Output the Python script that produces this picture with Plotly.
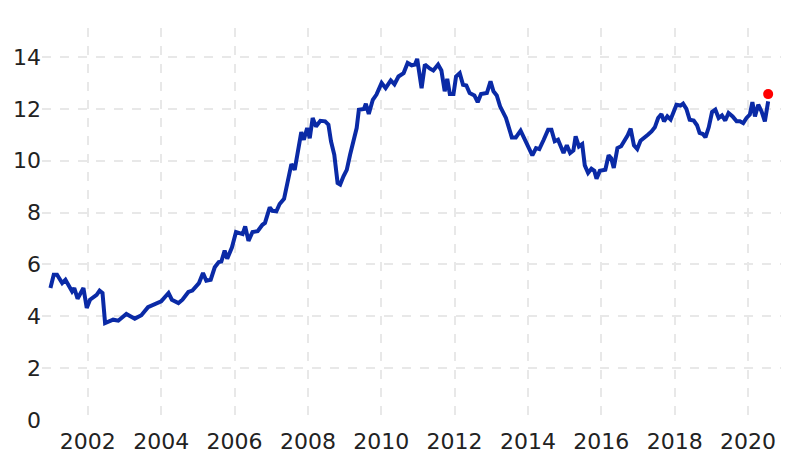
import plotly.graph_objects as go

years = [2000.98,2001.07,2001.16,2001.30,2001.39,2001.57,2001.63,2001.72,2001.88,2001.97,
2002.06,2002.24,2002.32,2002.40,2002.47,2002.69,2002.83,2003.05,2003.28,2003.46,2003.64,2003.82,
2004.00,2004.20,2004.29,2004.47,2004.58,2004.74,2004.85,2005.03,2005.14,2005.23,2005.35,2005.46,
2005.57,2005.64,2005.73,2005.80,2005.93,2006.04,2006.22,2006.29,2006.38,2006.49,2006.63,2006.76,
2006.83,2006.96,2007.03,2007.14,2007.23,2007.35,2007.46,2007.55,2007.64,2007.73,2007.82,2007.89,
2007.98,2008.05,2008.13,2008.22,2008.34,2008.47,2008.56,2008.63,2008.72,2008.81,2008.88,2008.97,
2009.06,2009.15,2009.24,2009.33,2009.39,2009.53,2009.58,2009.66,2009.77,2009.87,2010.01,2010.12,
2010.26,2010.36,2010.47,2010.61,2010.72,2010.83,2010.92,2010.98,2011.10,2011.19,2011.33,2011.42,
2011.55,2011.64,2011.73,2011.80,2011.87,2011.97,2012.04,2012.14,2012.23,2012.32,2012.41,2012.54,
2012.63,2012.72,2012.88,2012.98,2013.06,2013.15,2013.24,2013.40,2013.56,2013.67,2013.80,2013.89,
2014.01,2014.12,2014.22,2014.31,2014.43,2014.55,2014.64,2014.73,2014.82,2014.97,2015.06,2015.15,
2015.24,2015.30,2015.39,2015.48,2015.55,2015.64,2015.73,2015.81,2015.87,2015.96,2016.11,2016.20,
2016.27,2016.34,2016.44,2016.54,2016.72,2016.80,2016.89,2016.98,2017.07,2017.17,2017.27,2017.37,
2017.46,2017.55,2017.64,2017.71,2017.80,2017.89,2018.00,2018.05,2018.16,2018.23,2018.32,2018.41,
2018.52,2018.61,2018.68,2018.77,2018.84,2018.93,2019.02,2019.11,2019.20,2019.29,2019.38,2019.47,
2019.58,2019.69,2019.78,2019.87,2019.96,2020.05,2020.12,2020.19,2020.28,2020.37,2020.46,2020.55]
values = [5.09,5.60,5.60,5.28,5.41,4.96,5.09,4.68,5.09,4.32,
4.64,4.83,4.99,4.90,3.74,3.87,3.83,4.09,3.91,4.04,4.35,4.47,
4.58,4.90,4.64,4.51,4.64,4.94,4.99,5.28,5.67,5.37,5.41,5.89,
6.09,6.11,6.53,6.22,6.66,7.25,7.17,7.47,6.91,7.25,7.28,7.53,
7.60,8.20,8.07,8.05,8.33,8.53,9.27,9.87,9.65,10.36,11.10,10.81,
11.26,10.87,11.65,11.32,11.54,11.52,11.39,10.75,10.23,9.14,9.08,9.40,
9.65,10.23,10.81,11.26,11.97,12.00,12.20,11.80,12.35,12.55,13.00,12.80,
13.10,12.95,13.25,13.38,13.77,13.68,13.71,13.93,12.80,13.71,13.55,13.48,
13.71,13.48,12.68,13.16,12.57,12.57,13.25,13.38,12.93,12.90,12.61,12.52,
12.26,12.57,12.61,13.06,12.68,12.52,12.10,11.65,10.90,10.90,11.16,10.87,
10.49,10.21,10.49,10.45,10.81,11.20,11.20,10.75,10.81,10.30,10.60,10.30,
10.40,10.94,10.55,10.64,9.82,9.53,9.69,9.61,9.31,9.61,9.65,10.21,
10.10,9.72,10.49,10.56,10.98,11.24,10.59,10.45,10.77,10.87,11.00,11.13,
11.29,11.65,11.80,11.52,11.71,11.59,11.97,12.16,12.13,12.20,12.00,11.58,
11.55,11.37,11.07,11.03,10.90,11.29,11.88,11.97,11.65,11.75,11.55,11.84,
11.71,11.52,11.52,11.45,11.65,11.78,12.26,11.71,12.16,11.90,11.52,12.29]
last_year = [2020.55]
last_value = [12.57]
tick_years = [2002, 2004, 2006, 2008, 2010, 2012, 2014, 2016, 2018, 2020]
tick_vals = [0, 2, 4, 6, 8, 10, 12, 14]

fig = go.Figure()
fig.add_trace(go.Scatter(x=years, y=values, mode="lines",
                         line=dict(color="#0a2aa6", width=4), hoverinfo="skip"))
fig.add_trace(go.Scatter(x=last_year, y=last_value, mode="markers",
                         marker=dict(color="#ff0000", size=10)))
grid = dict(showgrid=True, gridcolor="#e8e8e8", griddash="dash", gridwidth=1.5,
            zeroline=False, showline=False, ticks="",
            tickfont=dict(family="DejaVu Sans", size=22, color="#222222"))
fig.update_layout(
    width=799, height=466, showlegend=False,
    plot_bgcolor="white", paper_bgcolor="white",
    margin=dict(l=34, r=26, t=20, b=54, autoexpand=False),
    xaxis=dict(range=[2000.75, 2020.9], tickvals=tick_years, ticklabelstandoff=6,
               ticktext=[str(t) for t in tick_years], **grid),
    yaxis=dict(range=[0, 15.12], tickvals=tick_vals, **grid),
)
fig.write_html("out.html")
